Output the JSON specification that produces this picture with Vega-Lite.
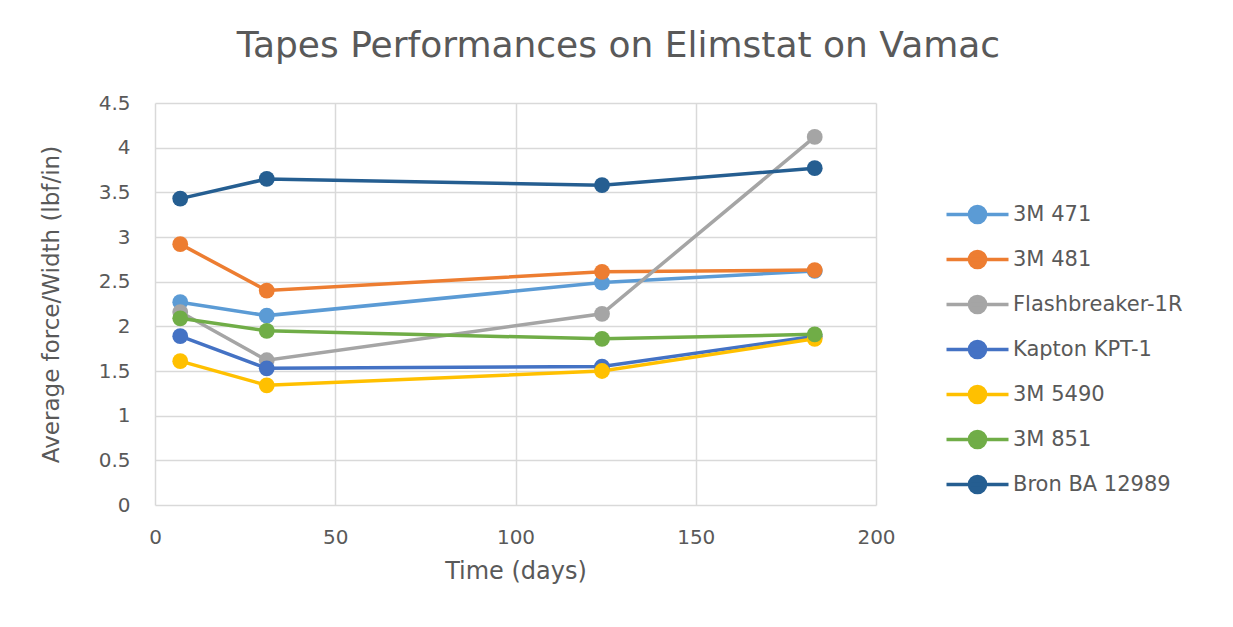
{
  "$schema": "https://vega.github.io/schema/vega-lite/v6.json",
  "autosize": "none",
  "width": 721,
  "height": 402,
  "padding": {"left": 155, "top": 103, "right": 357, "bottom": 122},
  "background": "white",
  "config": {
    "font": "DejaVu Sans",
    "view": {"stroke": null},
    "axis": {"labelColor": "#595959", "titleColor": "#595959", "labelFontSize": 20, "titleFontWeight": "normal", "gridColor": "#d9d9d9", "gridWidth": 1.5, "domain": false, "ticks": false, "labelFlush": false}
  },
  "title": {"text": "Tapes Performances on Elimstat on Vamac", "fontSize": 36, "fontWeight": "normal", "color": "#595959", "anchor": "middle", "dx": 103, "offset": 28},
  "data": {"values": [
    {"series": "3M 471", "time": 7, "force": 2.27},
    {"series": "3M 471", "time": 31, "force": 2.12},
    {"series": "3M 471", "time": 124, "force": 2.49},
    {"series": "3M 471", "time": 183, "force": 2.62},
    {"series": "3M 481", "time": 7, "force": 2.92},
    {"series": "3M 481", "time": 31, "force": 2.40},
    {"series": "3M 481", "time": 124, "force": 2.61},
    {"series": "3M 481", "time": 183, "force": 2.63},
    {"series": "Flashbreaker-1R", "time": 7, "force": 2.16},
    {"series": "Flashbreaker-1R", "time": 31, "force": 1.62},
    {"series": "Flashbreaker-1R", "time": 124, "force": 2.14},
    {"series": "Flashbreaker-1R", "time": 183, "force": 4.12},
    {"series": "Kapton KPT-1", "time": 7, "force": 1.89},
    {"series": "Kapton KPT-1", "time": 31, "force": 1.53},
    {"series": "Kapton KPT-1", "time": 124, "force": 1.55},
    {"series": "Kapton KPT-1", "time": 183, "force": 1.89},
    {"series": "3M 5490", "time": 7, "force": 1.61},
    {"series": "3M 5490", "time": 31, "force": 1.34},
    {"series": "3M 5490", "time": 124, "force": 1.50},
    {"series": "3M 5490", "time": 183, "force": 1.86},
    {"series": "3M 851", "time": 7, "force": 2.09},
    {"series": "3M 851", "time": 31, "force": 1.95},
    {"series": "3M 851", "time": 124, "force": 1.86},
    {"series": "3M 851", "time": 183, "force": 1.91},
    {"series": "Bron BA 12989", "time": 7, "force": 3.43},
    {"series": "Bron BA 12989", "time": 31, "force": 3.65},
    {"series": "Bron BA 12989", "time": 124, "force": 3.58},
    {"series": "Bron BA 12989", "time": 183, "force": 3.77}
  ]},
  "encoding": {
    "x": {"field": "time", "type": "quantitative", "scale": {"domain": [0, 200], "nice": false}, "axis": {"values": [0, 50, 100, 150, 200], "title": "Time (days)", "titleFontSize": 24, "labelPadding": 22, "titlePadding": 12}},
    "y": {"field": "force", "type": "quantitative", "scale": {"domain": [0, 4.5], "nice": false}, "axis": {"values": [0, 0.5, 1, 1.5, 2, 2.5, 3, 3.5, 4, 4.5], "format": "~g", "title": "Average force/Width (lbf/in)", "titleFontSize": 23, "labelPadding": 25, "titlePadding": 35}},
    "color": {"field": "series", "type": "nominal",
      "scale": {"domain": ["3M 471", "3M 481", "Flashbreaker-1R", "Kapton KPT-1", "3M 5490", "3M 851", "Bron BA 12989"], "range": ["#5B9BD5", "#ED7D31", "#A5A5A5", "#4472C4", "#FFC000", "#70AD47", "#255E91"]},
      "legend": {"title": null, "orient": "none", "legendX": 805, "legendY": 94, "labelFontSize": 21, "labelColor": "#595959", "labelLimit": 400, "rowPadding": 12,
        "symbolType": "M-2,0L2,0M0.52,0A0.52,0.52,0,1,1,-0.52,0A0.52,0.52,0,1,1,0.52,0Z", "symbolSize": 961, "symbolStrokeWidth": 3.5, "labelOffset": 18,
        "encode": {"symbols": {"update": {"fill": {"scale": "color", "field": "value"}, "stroke": {"scale": "color", "field": "value"}, "strokeWidth": {"value": 3.5}}}}}
    }
  },
  "layer": [
    {"mark": {"type": "line", "strokeWidth": 3.5}},
    {"mark": {"type": "point", "filled": true, "size": 250, "opacity": 1}}
  ]
}
